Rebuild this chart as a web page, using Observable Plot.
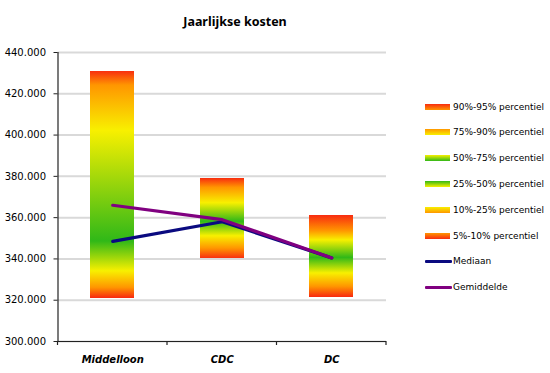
<!DOCTYPE html>
<html><head><meta charset="utf-8">
<script src="https://cdn.jsdelivr.net/npm/d3@7"></script>
<script src="https://cdn.jsdelivr.net/npm/@observablehq/plot@0.6"></script>
<style>
body{margin:0;background:#fff;}
#wrap{position:relative;width:550px;height:373px;overflow:hidden;font-family:"DejaVu Sans",sans-serif;color:#000;}
#title{position:absolute;left:0;width:470px;top:14px;text-align:center;font:bold 12.5px "Noto Sans",sans-serif;line-height:16px;}
#legend{position:absolute;left:425px;top:93.8px;font-size:9px;}
.row{display:flex;align-items:center;height:25.8px;white-space:nowrap;}
.sw{width:25px;height:6px;margin-right:3px;}
.ln{width:27px;height:3px;margin-right:1px;border-radius:1px;}
#chart{position:absolute;left:0;top:0;}
</style></head>
<body><div id="wrap"><div id="chart"></div><div id="title">Jaarlijkse kosten</div><div id="legend"></div></div>
<script>
const categories = ["Middelloon", "CDC", "DC"];
const p5  = [321000, 340000, 321500];
const p10 = [326000, 345000, 326500];
const p25 = [334000, 351000, 333000];
const p50 = [348500, 358000, 340500];
const p75 = [402000, 367000, 349000];
const p90 = [424000, 374500, 353500];
const p95 = [431000, 379000, 361000];
const median = [348500, 358000, 340500];
const mean = [366000, 359000, 340500];
const yTicks = [300000, 320000, 340000, 360000, 380000, 400000, 420000, 440000];
const bandLabels = ["5%-10% percentiel", "10%-25% percentiel", "25%-50% percentiel", "50%-75% percentiel", "75%-90% percentiel", "90%-95% percentiel"];
const lineLabels = ["Mediaan", "Gemiddelde"];

const RED = "#f82c10", ORANGE = "#ff9600", YELLOW = "#f8f000", GREEN = "#30b818";
// [top colour, bottom colour] for each band, bottom band first
const bandColors = [[ORANGE, RED], [YELLOW, ORANGE], [GREEN, YELLOW], [YELLOW, GREEN], [ORANGE, YELLOW], [RED, ORANGE]];
const lineColors = ["#0a0a80", "#800080"];

const table = categories.map((c, i) => ({cat: c, p5: p5[i], p10: p10[i], p25: p25[i], p50: p50[i], p75: p75[i], p90: p90[i], p95: p95[i], median: median[i], mean: mean[i]}));
const segs = [["p5","p10"],["p10","p25"],["p25","p50"],["p50","p75"],["p75","p90"],["p90","p95"]];
const fmt = d => d3.format(",")(d).replace(/,/g, ".");

const plot = Plot.plot({
  width: 550, height: 373,
  marginTop: 52, marginBottom: 32, marginLeft: 57.5, marginRight: 164,
  style: {fontFamily: "DejaVu Sans", fontSize: "10px", color: "#000", background: "transparent"},
  x: {domain: categories, paddingInner: 0.6, paddingOuter: 0.3, round: false, label: null},
  y: {domain: [300000, 440000], label: null},
  marks: [
    Plot.gridY(yTicks, {stroke: "#d9d9d9", strokeOpacity: 1, strokeWidth: 2}),
    ...segs.map(([a, b], k) => Plot.barY(table, {x: "cat", y1: a, y2: b, fill: `url(#band${k})`, shapeRendering: "crispEdges"})),
    Plot.line(table, {x: "cat", y: "median", stroke: lineColors[0], strokeWidth: 3.2}),
    Plot.line(table, {x: "cat", y: "mean", stroke: lineColors[1], strokeWidth: 3.2}),
    Plot.ruleY([300000], {stroke: "#222", strokeWidth: 1.2}),
    Plot.frame({anchor: "left", stroke: "#222", strokeWidth: 1.2}),
    Plot.axisY(yTicks, {tickSize: 4, tickPadding: 8, tickFormat: fmt, stroke: "#222"}),
    Plot.axisX({tickSize: 0, tickPadding: 14, fontWeight: "bold", fontStyle: "italic"})
  ]
});

const svg = d3.select(plot);
const defs = svg.insert("defs", ":first-child");
bandColors.forEach(([top, bottom], k) => {
  const g = defs.append("linearGradient").attr("id", `band${k}`).attr("x1", 0).attr("y1", 0).attr("x2", 0).attr("y2", 1);
  g.append("stop").attr("offset", 0).attr("stop-color", top);
  g.append("stop").attr("offset", 1).attr("stop-color", bottom);
});
// x-axis ticks at band boundaries
const xs = plot.scale("x"), ys = plot.scale("y");
const y0 = ys.apply(300000);
const half = (xs.step - xs.bandwidth) / 2;
const bounds = categories.map(c => xs.apply(c) - half).concat([xs.apply(categories[categories.length - 1]) + xs.bandwidth + half]);
svg.append("g").selectAll("line").data(bounds).join("line")
  .attr("x1", d => d).attr("x2", d => d).attr("y1", y0).attr("y2", y0 + 4)
  .attr("stroke", "#222").attr("stroke-width", 1.2);

document.getElementById("chart").appendChild(plot);

const legend = d3.select("#legend");
for (let k = bandLabels.length - 1; k >= 0; k--) {
  const r = legend.append("div").attr("class", "row");
  r.append("div").attr("class", "sw").style("background", `linear-gradient(to bottom, ${bandColors[k][0]}, ${bandColors[k][1]})`);
  r.append("span").text(bandLabels[k]);
}
lineLabels.forEach((l, i) => {
  const r = legend.append("div").attr("class", "row");
  r.append("div").attr("class", "ln").style("background", lineColors[i]);
  r.append("span").text(l);
});
</script></body></html>
